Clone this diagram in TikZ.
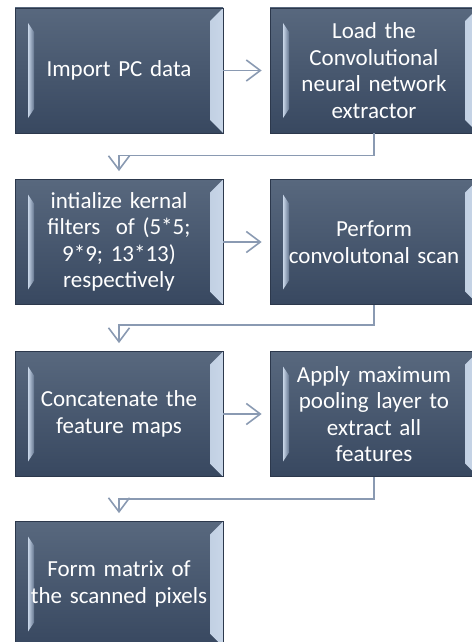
\documentclass[tikz,border=0pt]{standalone}
\usepackage{fontspec}
\setmainfont{Carlito}
\usetikzlibrary{arrows.meta}

\definecolor{boxtop}{RGB}{88,104,126}
\definecolor{boxbot}{RGB}{56,72,96}
\definecolor{boxedge}{RGB}{44,56,76}
\definecolor{bevlight}{RGB}{200,214,232}
\definecolor{bevdark}{RGB}{104,122,148}
\definecolor{linkcol}{RGB}{138,154,178}

\tikzset{
  stepbox/.style={draw=boxedge, line width=0.8pt, top color=boxtop, bottom color=boxbot,
    minimum width=208pt, minimum height=125pt, inner sep=0pt, text width=200pt,
    align=center, text=white, font=\fontsize{23}{26.5}\selectfont,
    path picture={
      % right bevel
      \shade[left color=bevdark, right color=bevlight]
        ([xshift=-13pt,yshift=-13pt]path picture bounding box.north east) --
        (path picture bounding box.north east) --
        (path picture bounding box.south east) --
        ([xshift=-13pt,yshift=13pt]path picture bounding box.south east) -- cycle;
      % left highlight
      \shade[left color=bevlight, right color=bevdark!80!boxtop]
        ([xshift=13pt,yshift=-15pt]path picture bounding box.north west) --
        ([xshift=19pt,yshift=-24pt]path picture bounding box.north west) --
        ([xshift=19pt,yshift=24pt]path picture bounding box.south west) --
        ([xshift=13pt,yshift=15pt]path picture bounding box.south west) -- cycle;
    }},
  link/.style={draw=linkcol, line width=1.6pt, shorten >=8pt,
    -{Straight Barb[length=14pt,width=21pt,line width=1.6pt]}}
}

\begin{document}
\begin{tikzpicture}[x=1pt, y=-1pt]
  \useasboundingbox (0,0) rectangle (471,642);

  \node[stepbox] (import) at (119,70.5) {Import PC data};
  \node[stepbox] (load) at (374,70.5) {Load the\\Convolutional\\neural network\\extractor};

  \node[stepbox] (kernal) at (119,242) {intialize kernal\\filters\ \ of (5*5;\\9*9; 13*13)\\respectively};
  \node[stepbox] (scan) at (374,242) {Perform\\convolutonal scan};

  \node[stepbox] (concat) at (119,414) {Concatenate the\\feature maps};
  \node[stepbox] (pool) at (374,414) {Apply maximum\\pooling layer to\\extract all\\features};

  \node[stepbox] (matrix) at (119,584) {Form matrix of\\the scanned pixels};

  % across each row
  \draw[link] (import) -- (load);
  \draw[link] (kernal) -- (scan);
  \draw[link] (concat) -- (pool);

  % back to the next row
  \draw[link] (load.south) -- ++(0,22) -| (kernal.north);
  \draw[link] (scan.south) -- ++(0,20) -| (concat.north);
  \draw[link] (pool.south) -- ++(0,22) -| (matrix.north);
\end{tikzpicture}
\end{document}
